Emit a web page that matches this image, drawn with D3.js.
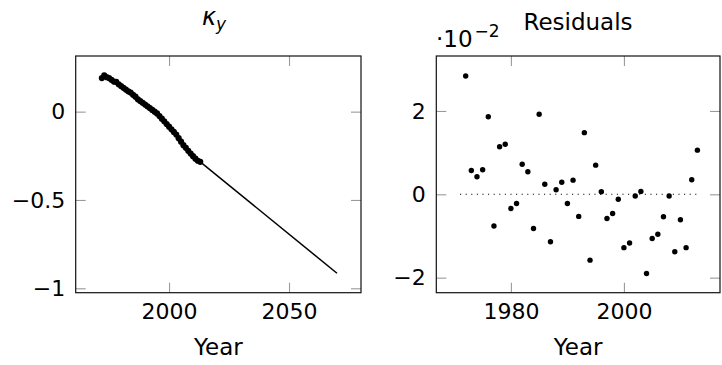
<!DOCTYPE html>
<html>
<head>
<meta charset="utf-8">
<script src="https://cdn.jsdelivr.net/npm/d3@7"></script>
<style>
  html, body { margin: 0; padding: 0; background: #fff; }
  svg text { font-family: "DejaVu Sans", sans-serif; fill: #000; }
</style>
</head>
<body>
<svg id="chart" width="722" height="365"></svg>
<script>
// observed kappa_y, one value per year
const kappaYears = d3.range(1972, 2014);
const kappaValues = [
  0.190, 0.205, 0.195, 0.190, 0.180, 0.170, 0.168, 0.155, 0.145, 0.135,
  0.125, 0.115, 0.108, 0.095, 0.085, 0.070, 0.060, 0.050, 0.040, 0.030,
  0.020, 0.010, 0.000, -0.010, -0.025, -0.040, -0.055, -0.070, -0.085, -0.100,
  -0.115, -0.130, -0.150, -0.170, -0.190, -0.205, -0.222, -0.237, -0.252, -0.266,
  -0.278, -0.284
];
// straight forecast line
const forecastYears = [2013, 2070];
const forecastValues = [-0.284, -0.915];

// residuals, in units of 10^-2
const residualYears = d3.range(1972, 2014);
const residualValues = [
  2.84, 0.57, 0.42, 0.59, 1.86, -0.76, 1.14, 1.20, -0.34, -0.22,
  0.72, 0.54, -0.82, 1.92, 0.24, -1.14, 0.11, 0.29, -0.22, 0.34,
  -0.53, 1.48, -1.58, 0.70, 0.06, -0.58, -0.46, -0.12, -1.28, -1.17,
  -0.04, 0.07, -1.90, -1.06, -0.96, -0.54, -0.04, -1.38, -0.61, -1.28,
  0.35, 1.06
];
const zeroLineYears = [1971, 2013];

const leftXTicks = [2000, 2050];
const leftYTicks = [0, -0.5, -1];
const rightXTicks = [1980, 2000];
const rightYTicks = [-2, 0, 2];

const svg = d3.select("#chart");
const fontSize = 22;
const tickLen = 10;
const plotTop = 56, plotBottom = 292.7;

// draws the box, the inside ticks on all four sides and the labels
function drawFrame(g, x, y, xTicks, yTicks, yFormat) {
  const [x0, x1] = x.range();
  const [y0, y1] = y.range();

  const ax = [
    { axis: d3.axisBottom(x).tickValues(xTicks).tickFormat(d3.format("d")), tr: "translate(0," + y0 + ")" },
    { axis: d3.axisTop(x).tickValues(xTicks).tickFormat(""), tr: "translate(0," + y1 + ")" },
    { axis: d3.axisLeft(y).tickValues(yTicks).tickFormat(yFormat), tr: "translate(" + x0 + ",0)" },
    { axis: d3.axisRight(y).tickValues(yTicks).tickFormat(""), tr: "translate(" + x1 + ",0)" }
  ];
  ax.forEach(a => {
    const s = g.append("g")
      .attr("transform", a.tr)
      .call(a.axis.tickSizeInner(-tickLen).tickSizeOuter(0).tickPadding(10.5));
    s.select(".domain").remove();
    s.selectAll(".tick line").attr("stroke", "#9a9a9a").attr("stroke-width", 1.1);
    s.selectAll(".tick text")
      .style("font-family", "'DejaVu Sans', sans-serif")
      .style("font-size", fontSize + "px")
      .attr("fill", "#000");
  });

  g.append("rect")
    .attr("x", x0).attr("y", y1)
    .attr("width", x1 - x0).attr("height", y0 - y1)
    .attr("fill", "none")
    .attr("stroke", "#111")
    .attr("stroke-width", 1.2);

  g.append("text")
    .attr("x", (x0 + x1) / 2)
    .attr("y", 355)
    .attr("text-anchor", "middle")
    .style("font-size", "23px")
    .text("Year");
}

// ---- left panel: kappa_y ----
const xL = d3.scaleLinear().domain([1961.1, 2080]).range([75.7, 361]);
const yL = d3.scaleLinear().domain([-1.025, 0.315]).range([plotBottom, plotTop]);
const left = svg.append("g");

const lineL = d3.line().x(d => xL(d[0])).y(d => yL(d[1]));

left.append("path")
  .datum(d3.zip(forecastYears, forecastValues))
  .attr("d", lineL)
  .attr("fill", "none")
  .attr("stroke", "#000")
  .attr("stroke-width", 1.5);

left.append("path")
  .datum(d3.zip(kappaYears, kappaValues))
  .attr("d", lineL)
  .attr("fill", "none")
  .attr("stroke", "#000")
  .attr("stroke-width", 2);

left.selectAll("circle")
  .data(d3.zip(kappaYears, kappaValues))
  .enter()
  .append("circle")
  .attr("cx", d => xL(d[0]))
  .attr("cy", d => yL(d[1]))
  .attr("r", 3.1)
  .attr("fill", "#000");

drawFrame(left, xL, yL, leftXTicks, leftYTicks, d3.format(""));

const kTitle = left.append("text")
  .attr("x", 214)
  .attr("y", 25)
  .attr("text-anchor", "middle")
  .style("font-size", "24px")
  .style("font-style", "italic");
kTitle.append("tspan").text("κ");
kTitle.append("tspan")
  .attr("dy", 5)
  .style("font-size", "17px")
  .text("y");

// ---- right panel: residuals ----
const xR = d3.scaleLinear().domain([1966.8, 2017.0]).range([436.3, 720]);
const yR = d3.scaleLinear().domain([-2.361, 3.319]).range([plotBottom, plotTop]);
const right = svg.append("g");

right.append("path")
  .datum(zeroLineYears.map(d => [d, 0]))
  .attr("d", d3.line().x(d => xR(d[0])).y(d => yR(d[1])))
  .attr("stroke", "#000")
  .attr("stroke-width", 1.1)
  .attr("stroke-dasharray", "1.1,4.5");

right.selectAll("circle")
  .data(d3.zip(residualYears, residualValues))
  .enter()
  .append("circle")
  .attr("cx", d => xR(d[0]))
  .attr("cy", d => yR(d[1]))
  .attr("r", 2.7)
  .attr("fill", "#000");

drawFrame(right, xR, yR, rightXTicks, rightYTicks, d3.format(""));

right.append("text")
  .attr("x", 578)
  .attr("y", 30)
  .attr("text-anchor", "middle")
  .style("font-size", "23px")
  .text("Residuals");

// scale factor label
const sf = right.append("text")
  .attr("x", 436)
  .attr("y", 47)
  .style("font-size", "23px");
sf.append("tspan").text("·10");
sf.append("tspan")
  .attr("dy", -10)
  .attr("dx", 2)
  .style("font-size", "17px")
  .text("−2");
</script>
</body>
</html>
